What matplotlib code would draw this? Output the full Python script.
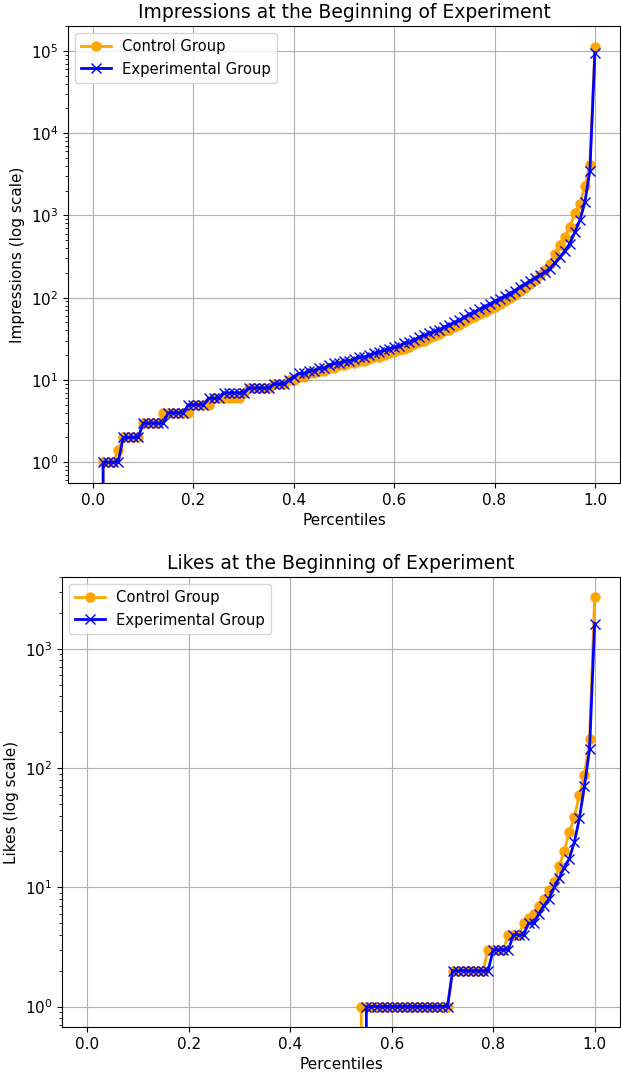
import numpy as np
import matplotlib
matplotlib.use("Agg")
import matplotlib.pyplot as plt

percentiles = [i / 100 for i in range(101)]

impr_control = [0, 0, 1, 1, 1, 1.4, 2, 2, 2, 2,
                3, 3, 3, 3, 4, 4, 4, 4, 4, 4,
                5, 5, 5, 5, 6, 6, 6, 6, 6, 6,
                7, 8, 8, 8, 8, 8, 9, 9, 9, 10,
                10, 11, 11, 12, 12, 13, 13, 14, 14, 15,
                15, 16, 16, 17, 17, 18, 19, 19, 20, 21,
                22, 23, 24, 25, 27, 29, 30, 32, 34, 36,
                39, 41, 44, 47, 51, 55, 59, 63, 67, 72,
                77, 84, 91, 99, 108, 120, 132, 148, 165, 188,
                215, 260, 335, 435, 545, 720, 1070, 1380, 2260, 4100,
                112000]

impr_experimental = [0, 0, 1, 1, 1, 1, 2, 2, 2, 2,
                     3, 3, 3, 3, 3, 4, 4, 4, 4, 5,
                     5, 5, 5, 6, 6, 6, 7, 7, 7, 7,
                     7, 8, 8, 8, 8, 8, 9, 9, 9, 10,
                     11, 12, 12, 13, 13, 14, 14, 15, 16, 16,
                     17, 17, 18, 19, 19, 20, 21, 22, 23, 24,
                     25, 26, 28, 29, 31, 33, 35, 37, 39, 41,
                     44, 47, 50, 53, 58, 63, 67, 72, 78, 84,
                     90, 97, 104, 112, 122, 135, 146, 158, 172, 188,
                     205, 225, 265, 310, 370, 455, 625, 870, 1450, 3500,
                     95000]

likes_control = [0] * 54 + [1] * 18 + [2, 2, 2, 2, 2, 2, 2,
                 3, 3, 3, 3, 4, 4, 4, 5, 5.5, 6, 7, 8, 9.5, 11, 15, 20,
                 29, 39, 60, 88, 176, 2700]

likes_experimental = [0] * 55 + [1] * 17 + [2, 2, 2, 2, 2, 2, 2, 2,
                      3, 3, 3, 3, 4, 4, 4, 5, 5, 6, 7, 8, 10, 12, 14.6, 17.4,
                      24, 38, 71, 144, 1630]

W, H = 621, 1078
fig = plt.figure(figsize=(W / 100, H / 100), dpi=100)
ax_top = fig.add_axes([68 / W, (H - 483) / H, (620 - 68) / W, (483 - 26) / H])
ax_bot = fig.add_axes([62 / W, (H - 1027) / H, (620 - 62) / W, (1027 - 577) / H])

panels = [
    (ax_top, impr_control, impr_experimental,
     "Impressions at the Beginning of Experiment", "Impressions (log scale)"),
    (ax_bot, likes_control, likes_experimental,
     "Likes at the Beginning of Experiment", "Likes (log scale)"),
]

for ax, ctrl, expt, title, ylabel in panels:
    ax.plot(percentiles, ctrl, marker="o", color="orange", label="Control Group",
            linewidth=2, markersize=6.5)
    ax.plot(percentiles, expt, marker="x", color="blue", label="Experimental Group",
            linewidth=2, markersize=6.5)
    ax.set_yscale("log")
    ax.set_title(title, fontsize=13.5)
    ax.set_xlabel("Percentiles", fontsize=11)
    ax.set_ylabel(ylabel, fontsize=11)
    ax.tick_params(labelsize=11)
    ax.grid(True)
    ax.legend(loc="upper left", fontsize=10.6)

fig.savefig("out.png", dpi=100)
